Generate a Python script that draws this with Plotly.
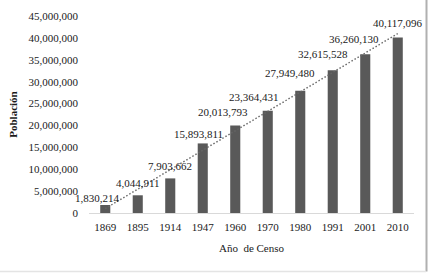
import numpy as np
import plotly.graph_objects as go

years = ["1869", "1895", "1914", "1947", "1960", "1970", "1980", "1991", "2001", "2010"]
population = [1830214, 4044911, 7903662, 15893811, 20013793, 23364431, 27949480, 32615528, 36260130, 40117096]
y_ticks = [0, 5000000, 10000000, 15000000, 20000000, 25000000, 30000000, 35000000, 40000000, 45000000]

# manual label offsets (px), as placed in the original
label_dx = [-8, 0, 0, -4, -12, -14, -10, -10, -11, 0]
label_dy = [7, 12, 12, 9, 13, 14, 18, 16, 15, 14]

FONT = "Liberation Serif"

# linear trend over category index
idx = np.arange(1, len(population) + 1)
slope, intercept = np.polyfit(idx, population, 1)
trend = slope * idx + intercept

fig = go.Figure()
fig.add_trace(go.Bar(x=years, y=population, marker=dict(color="#595959", line=dict(width=0)),
                     hoverinfo="x+y"))
fig.add_trace(go.Scatter(x=years, y=trend, mode="lines",
                         line=dict(color="#666666", width=1.4, dash="1.5px,2px")))

for i, v in enumerate(population):
    fig.add_annotation(x=i, y=v, text=f"{v:,}", showarrow=False,
                       xshift=label_dx[i], yshift=label_dy[i], yanchor="middle",
                       font=dict(family=FONT, size=11, color="#1a1a1a"))

L, R, T, B = 89, 17, 16, 60
W, H = 431, 273
pw, ph = W - L - R, H - T - B
def px(x):
    return (x - L) / pw
def py(y):
    return (H - B - y) / ph

fig.add_shape(type="line", xref="paper", yref="paper", x0=px(426.5), x1=px(426.5), y0=py(0), y1=py(271.5),
              line=dict(color="#b0b0b0", width=2))
fig.add_shape(type="line", xref="paper", yref="paper", x0=px(0), x1=px(426), y0=py(271.5), y1=py(271.5),
              line=dict(color="#e4e4e4", width=1.5))

fig.update_layout(
    width=W, height=H,
    margin=dict(l=L, r=R, t=T, b=B, autoexpand=False),
    paper_bgcolor="white", plot_bgcolor="white",
    showlegend=False, bargap=0.69,
    font=dict(family=FONT, size=11, color="#1a1a1a"),
    xaxis=dict(type="category", range=[-0.5, len(years) - 0.5], automargin=False,
               showgrid=False, showline=True, linecolor="#d9d9d9", linewidth=1,
               ticks="", ticklabelstandoff=4, tickfont=dict(size=11),
               title=dict(text="Año  de Censo", font=dict(size=11), standoff=12)),
    yaxis=dict(range=[0, 45000000], tickvals=y_ticks, ticktext=[f"{t:,}" for t in y_ticks],
               automargin=False, showgrid=False, zeroline=False, showline=False, ticks="",
               ticklabelstandoff=10, tickfont=dict(size=11),
               title=dict(text="<b>Población</b>", font=dict(size=11), standoff=8)),
)

fig.write_html("out.html", config={"displayModeBar": False},
               post_script="document.body.style.margin='0';document.body.style.overflow='hidden';")
